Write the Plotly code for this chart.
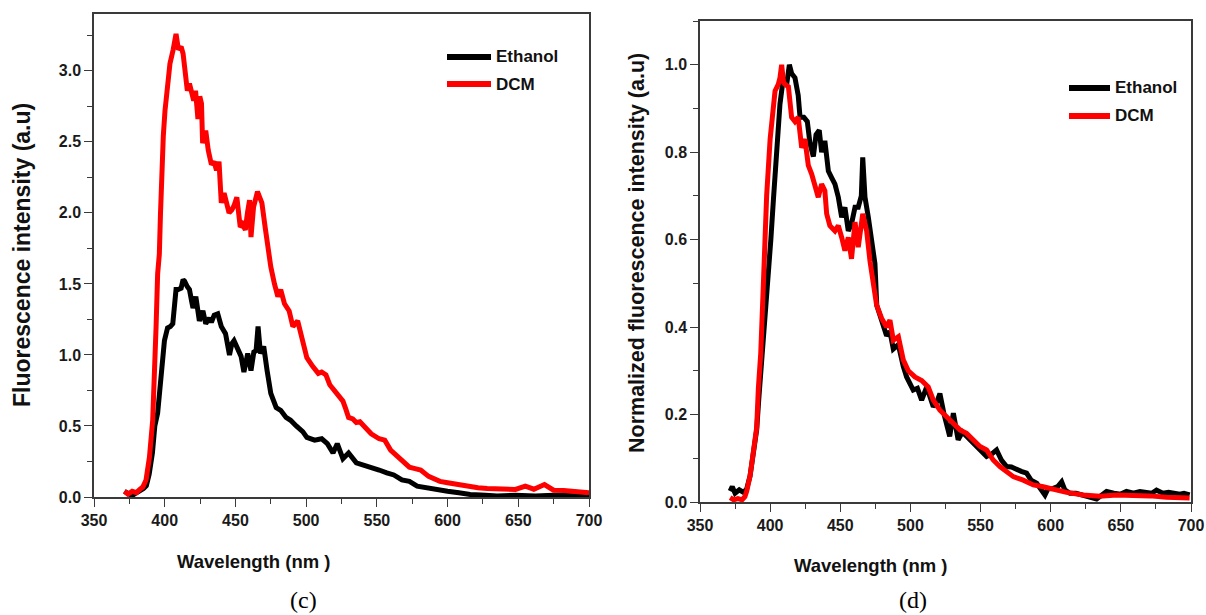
import plotly.graph_objects as go

# ---------------- data: panel (c) ----------------
wl_c_eth = [371.5, 374, 377, 380, 382, 385, 387, 389, 391.3, 393,
            395, 397.4, 399.8, 402, 404, 405.7, 407, 408, 409.5, 411.6,
            413, 414, 416, 417.5, 419, 420, 422, 424.5, 427, 429,
            431.6, 433, 435, 437.5, 440, 443, 445.8, 447.5, 449, 451.7,
            454, 456, 458.7, 461, 463, 464.6, 466, 467.7, 470, 472.4,
            475, 478.8, 482, 485.8, 489, 493, 497.6, 500.5, 503, 506,
            511, 515, 519, 522, 526, 530, 535.5, 541, 546, 551.6,
            557, 562, 567.7, 573, 578.5, 584, 592, 600, 608, 616,
            627, 635, 648, 662, 675, 689, 700]
int_c_eth = [0.04, 0.03, 0.01, 0.03, 0.04, 0.06, 0.08, 0.16, 0.31, 0.50,
             0.59, 0.82, 1.10, 1.19, 1.20, 1.22, 1.40, 1.46, 1.46, 1.47,
             1.53, 1.52, 1.48, 1.46, 1.38, 1.33, 1.41, 1.24, 1.31, 1.22,
             1.26, 1.23, 1.28, 1.29, 1.20, 1.15, 1.00, 1.08, 1.10, 1.03,
             0.99, 0.88, 1.01, 0.89, 1.02, 1.03, 1.20, 1.01, 1.06, 0.89,
             0.73, 0.63, 0.61, 0.56, 0.54, 0.50, 0.46, 0.42, 0.41, 0.40,
             0.41, 0.375, 0.31, 0.375, 0.27, 0.31, 0.24, 0.225, 0.21, 0.19,
             0.17, 0.155, 0.12, 0.11, 0.076, 0.065, 0.053, 0.041, 0.03, 0.018,
             0.012, 0.007, 0.012, 0.007, 0.012, 0.007, 0.007]

wl_c_dcm = [371.5, 374, 377, 380, 382, 384.5, 386.8, 389.2, 391.5, 392.7,
            393.9, 395, 396.2, 397, 397.8, 399, 400.2, 401.4, 403.7, 406,
            408, 409.7, 411.6, 413, 414.4, 416, 417.5, 419, 420.5, 421.8,
            423.5, 424.8, 426, 426.8, 429, 430.8, 433, 435, 436.6, 438.4,
            440, 442, 443.9, 445.5, 447.4, 449, 451, 453.4, 455, 457,
            458.5, 460, 461, 462.8, 465.6, 467, 468.7, 471, 473.4, 475,
            477.6, 480, 482, 484.7, 488, 490.6, 494, 497.6, 500.5, 504.6,
            508.6, 511, 514, 516.7, 519, 522, 526, 528, 530, 533,
            535.5, 538, 541, 546, 551.6, 555.6, 559.7, 565, 569, 573,
            577, 581, 586.6, 590, 594.6, 600, 608, 615, 621.5, 628,
            635, 642, 648, 655, 661, 668.5, 675, 682, 688.7, 695,
            700]
int_c_dcm = [0.04, 0.02, 0.04, 0.03, 0.05, 0.07, 0.12, 0.28, 0.54, 0.82,
             1.20, 1.57, 1.71, 1.99, 2.30, 2.54, 2.72, 2.84, 3.05, 3.15,
             3.26, 3.15, 3.17, 3.12, 3.00, 2.86, 2.91, 2.84, 2.79, 2.86,
             2.66, 2.82, 2.77, 2.49, 2.58, 2.44, 2.34, 2.36, 2.30, 2.36,
             2.07, 2.14, 2.04, 2.00, 2.02, 2.05, 2.11, 1.90, 1.92, 1.88,
             2.00, 2.09, 1.83, 2.04, 2.15, 2.10, 2.07, 1.90, 1.71, 1.62,
             1.50, 1.41, 1.46, 1.36, 1.31, 1.20, 1.24, 1.10, 0.98, 0.92,
             0.87, 0.88, 0.86, 0.79, 0.76, 0.72, 0.675, 0.62, 0.56, 0.55,
             0.525, 0.53, 0.50, 0.445, 0.41, 0.40, 0.33, 0.28, 0.24, 0.21,
             0.20, 0.19, 0.145, 0.13, 0.11, 0.10, 0.088, 0.07, 0.065, 0.06,
             0.058, 0.05, 0.053, 0.076, 0.055, 0.088, 0.048, 0.045, 0.041, 0.035,
             0.03]

# ---------------- data: panel (d) ----------------
wl_d_eth = [371.5, 373, 375, 378, 381, 383.3, 385.7, 388, 390.4, 392,
            394, 396, 397.5, 398.7, 400.5, 402.3, 404.7, 407, 409.4, 411.8,
            413.7, 415.3, 417.7, 420, 421.3, 424, 426.5, 428.4, 430.8, 432.7,
            435, 436.7, 439, 441.5, 443.8, 446.2, 448.6, 451, 453.3, 455.7,
            458, 460.5, 462.8, 465, 466, 467.6, 470, 472.3, 474.7, 476,
            479.5, 483, 485.4, 487.8, 491.4, 492.6, 494.9, 497.3, 500, 502,
            505, 508, 511.6, 514, 516.3, 519, 521, 524, 528, 530.6,
            534, 537, 540, 544, 547, 551, 554.3, 558, 561.4, 565,
            568.6, 572, 575.7, 579, 582.8, 586, 590, 595.9, 598, 601.8,
            605, 607.8, 610, 613.7, 618, 623, 628, 632.7, 636, 639.8,
            645, 650, 654, 659, 663.6, 668, 672, 675.4, 680, 684,
            687, 692, 695, 699]
int_d_eth = [0.025, 0.035, 0.02, 0.028, 0.022, 0.03, 0.06, 0.12, 0.165, 0.24,
             0.32, 0.42, 0.47, 0.51, 0.60, 0.69, 0.79, 0.91, 0.97, 0.955,
             1.0, 0.98, 0.97, 0.93, 0.88, 0.88, 0.87, 0.82, 0.79, 0.84,
             0.85, 0.80, 0.826, 0.757, 0.742, 0.727, 0.697, 0.651, 0.674, 0.62,
             0.636, 0.674, 0.674, 0.70, 0.788, 0.697, 0.651, 0.59, 0.545, 0.45,
             0.41, 0.38, 0.39, 0.35, 0.36, 0.34, 0.31, 0.286, 0.27, 0.256,
             0.26, 0.233, 0.263, 0.24, 0.218, 0.23, 0.248, 0.20, 0.15, 0.203,
             0.142, 0.16, 0.15, 0.14, 0.127, 0.115, 0.104, 0.11, 0.119, 0.095,
             0.081, 0.08, 0.073, 0.07, 0.066, 0.05, 0.043, 0.016, 0.03, 0.031,
             0.035, 0.046, 0.028, 0.02, 0.02, 0.016, 0.012, 0.007, 0.015, 0.024,
             0.02, 0.018, 0.024, 0.02, 0.024, 0.022, 0.02, 0.027, 0.02, 0.022,
             0.02, 0.018, 0.02, 0.016]

wl_d_dcm = [371.5, 374, 377, 380, 382, 383.3, 385.7, 388, 390.4, 391.6,
            393.3, 395.2, 397.5, 400, 401.5, 403.5, 405.8, 407, 408.2, 409.5,
            410.6, 413, 415.3, 417.7, 420, 422.5, 424.8, 427.2, 429.6, 432,
            434.3, 436.7, 439, 440.3, 442.6, 446.2, 448.6, 451, 453.3, 455.7,
            458, 460.5, 462.8, 466, 468.8, 471.2, 473.5, 475.9, 479.5, 483,
            485.4, 487.8, 491.4, 494.9, 498.5, 503.2, 508, 512.7, 516.3, 521,
            525.8, 530.6, 535.3, 540, 544.8, 549.6, 554.3, 559, 563.8, 568.6,
            573.3, 580.4, 587.6, 594.7, 601.8, 611.3, 623, 635, 647, 659,
            670.7, 682.6, 694.4, 699]
int_d_dcm = [0.01, 0.005, 0.008, 0.005, 0.012, 0.025, 0.06, 0.125, 0.17, 0.26,
             0.34, 0.50, 0.70, 0.83, 0.87, 0.94, 0.955, 0.97, 1.0, 0.96,
             0.955, 0.95, 0.88, 0.87, 0.88, 0.81, 0.83, 0.77, 0.75, 0.727,
             0.697, 0.727, 0.712, 0.659, 0.632, 0.62, 0.632, 0.605, 0.575, 0.605,
             0.556, 0.64, 0.583, 0.659, 0.62, 0.55, 0.49, 0.45, 0.42, 0.40,
             0.416, 0.37, 0.378, 0.325, 0.30, 0.286, 0.278, 0.263, 0.233, 0.21,
             0.195, 0.18, 0.165, 0.157, 0.142, 0.127, 0.119, 0.096, 0.081, 0.07,
             0.058, 0.05, 0.039, 0.035, 0.029, 0.022, 0.016, 0.013, 0.016, 0.016,
             0.014, 0.011, 0.009, 0.009]

series_names = ["Ethanol", "DCM"]
x_ticks = [350, 400, 450, 500, 550, 600, 650, 700]

# ---------------- styling ----------------
W, H = 1206, 615
BLACK = "#000000"
RED = "#ff0000"
AXC = "#3a3a3a"
SANS = "Liberation Sans"
SERIF = "Liberation Serif"
LW = 5

def px(x):
    return x / W

def py(y):
    return 1 - y / H

fig = go.Figure()

fig.add_trace(go.Scatter(x=wl_c_eth, y=int_c_eth, mode="lines", name=series_names[0],
                         line=dict(color=BLACK, width=LW), xaxis="x", yaxis="y"))
fig.add_trace(go.Scatter(x=wl_c_dcm, y=int_c_dcm, mode="lines", name=series_names[1],
                         line=dict(color=RED, width=LW), xaxis="x", yaxis="y"))
fig.add_trace(go.Scatter(x=wl_d_eth, y=int_d_eth, mode="lines", name=series_names[0],
                         line=dict(color=BLACK, width=LW), xaxis="x2", yaxis="y2"))
fig.add_trace(go.Scatter(x=wl_d_dcm, y=int_d_dcm, mode="lines", name=series_names[1],
                         line=dict(color=RED, width=LW), xaxis="x2", yaxis="y2"))

tickfont = dict(family=SANS, size=16, color="#1a1a1a", weight="bold")

def xaxis_style(domain, anchor):
    return dict(domain=domain, anchor=anchor, range=[350, 700], tickvals=x_ticks,
                automargin=False,
                showgrid=False, zeroline=False, showline=True, linecolor=AXC,
                linewidth=1.5, mirror=True, ticks="outside", ticklen=8,
                tickwidth=1.3, tickcolor=AXC, tickfont=tickfont,
                minor=dict(ticks="outside", ticklen=5, dtick=25, tickwidth=1.2,
                           tickcolor=AXC, showgrid=False))

def yaxis_style(domain, anchor, rng, dtick, mdtick):
    return dict(domain=domain, anchor=anchor, range=rng, dtick=dtick, tick0=0,
                automargin=False,
                tickformat=".1f", showgrid=False, zeroline=False, showline=True,
                linecolor=AXC, linewidth=1.5, mirror=True, ticks="outside",
                ticklen=8, tickwidth=1.3, tickcolor=AXC, tickfont=tickfont,
                minor=dict(ticks="outside", ticklen=5, dtick=mdtick, tickwidth=1.2,
                           tickcolor=AXC, showgrid=False))

fig.update_layout(
    width=W, height=H,
    margin=dict(l=0, r=0, t=0, b=0, pad=0, autoexpand=False),
    paper_bgcolor="white", plot_bgcolor="white",
    showlegend=False,
    xaxis=xaxis_style([px(94), px(589)], "y"),
    yaxis=yaxis_style([py(497), py(14)], "x", [0, 3.4], 0.5, 0.25),
    xaxis2=xaxis_style([px(700), px(1191)], "y2"),
    yaxis2=yaxis_style([py(502), py(21)], "x2", [0, 1.1], 0.2, 0.1),
)

# legend drawn as paper-space line samples + labels
legend_items = [
    # (x0, x1, y, color, label)
    (447, 491, 57, BLACK, series_names[0]),
    (447, 491, 84, RED, series_names[1]),
    (1069, 1110, 88, BLACK, series_names[0]),
    (1069, 1110, 116, RED, series_names[1]),
]
shapes = []
annotations = []
for x0, x1, yy, col, lab in legend_items:
    shapes.append(dict(type="line", xref="paper", yref="paper", x0=px(x0), x1=px(x1),
                       y0=py(yy), y1=py(yy), line=dict(color=col, width=6)))
    annotations.append(dict(text=lab, x=px(x1 + 3), y=py(yy), xanchor="left",
                            yanchor="middle",
                            font=dict(family=SANS, size=17, color="#111", weight="bold")))

annotations += [
    dict(text="Fluorescence intensity (a.u)", x=px(22), y=py(255), textangle=-90,
         xanchor="center", yanchor="middle",
         font=dict(family=SANS, size=23, color="#111", weight="bold")),
    dict(text="Normalized fluorescence intensity (a.u)", x=px(637), y=py(253),
         textangle=-90, xanchor="center", yanchor="middle",
         font=dict(family=SANS, size=21.5, color="#111", weight="bold")),
    dict(text="Wavelength (nm )", x=px(253), y=py(561), xanchor="center", yanchor="middle",
         font=dict(family=SANS, size=18.5, color="#111", weight="bold")),
    dict(text="Wavelength (nm )", x=px(870), y=py(565), xanchor="center", yanchor="middle",
         font=dict(family=SANS, size=18.5, color="#111", weight="bold")),
    dict(text="(c)", x=px(303), y=py(600), xanchor="center", yanchor="middle",
         font=dict(family=SERIF, size=24, color="#000")),
    dict(text="(d)", x=px(913), y=py(600), xanchor="center", yanchor="middle",
         font=dict(family=SERIF, size=24, color="#000")),
]
for a in annotations:
    a.update(xref="paper", yref="paper", showarrow=False)
fig.update_layout(annotations=annotations, shapes=shapes)

fig.write_html("out.html")
